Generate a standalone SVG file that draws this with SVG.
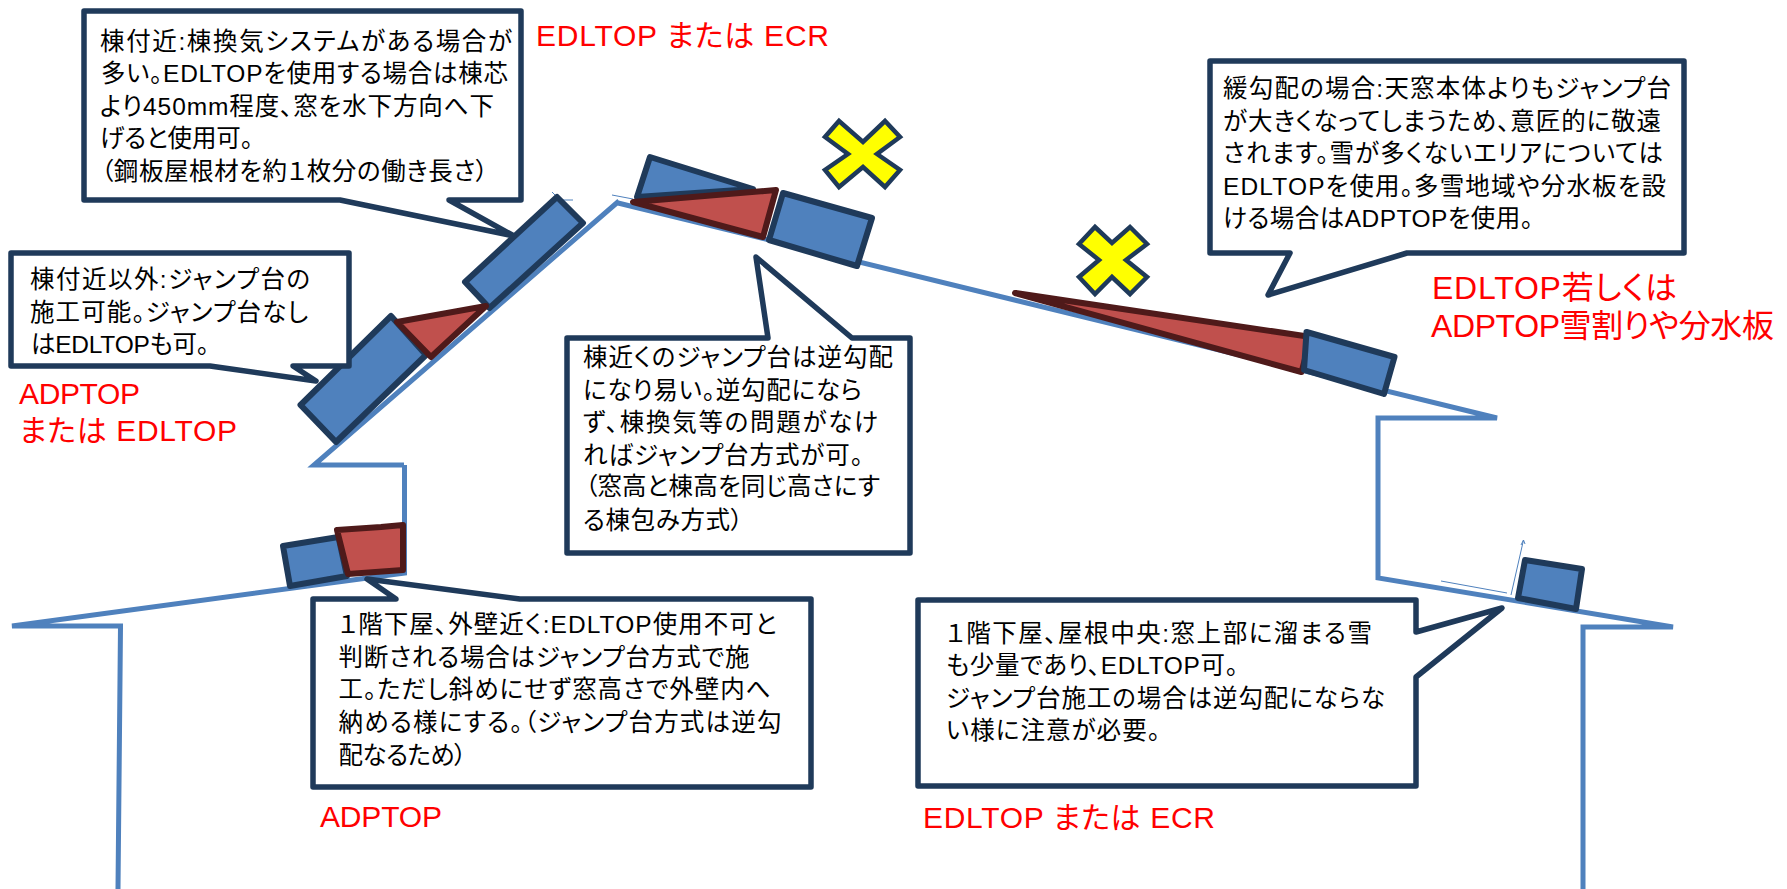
<svg xmlns="http://www.w3.org/2000/svg" width="1787" height="889" viewBox="0 0 1787 889">
<style>
text{font-family:"Liberation Sans","Noto Sans CJK JP",sans-serif;font-feature-settings:"palt"}
.t{font-size:24.500px;fill:#000}
.r{font-size:30px;fill:#f00}
.c{fill:#fff;stroke:#1F3A5A;stroke-width:5.500;stroke-linejoin:round}
.b{fill:#4F81BD;stroke:#1F3A5A;stroke-width:6;stroke-linejoin:round}
.d{fill:#C0504D;stroke:#4F1A1A;stroke-width:6;stroke-linejoin:round}
.y{fill:#FF0;stroke:#1F3A5A;stroke-width:4.500;stroke-linejoin:miter}
.l{fill:none;stroke:#4F81BD;stroke-width:5}
.h{fill:none;stroke:#4F81BD;stroke-width:1}
</style>
<rect width="1787" height="889" fill="#fff"/>
<g id="connectors">
<path class="l" d="M404.500 465V573L12 626H18H120.500L118 889"/>
<path class="l" d="M619 201L314 465H404"/>
<path class="l" d="M618 203L1497 418H1378V578L1673 627H1583V889"/>
<path class="h" d="M552 192L557 197M557 200H573M612 195L633 199M1441 581L1507 593M1511 595L1523.500 540M1521 545L1523.500 540L1525 544"/>
</g>
<g id="roof-parts">
<polygon class="b" points="557,197 583,223 489.500,308 465,282"/>
<polygon class="b" points="391,316 426,355 336,442 300.500,405"/>
<polygon class="d" points="486,306 431,357 397,322"/>
<polygon class="b" points="650,157 753,189 637,197"/>
<polygon class="d" points="633,202 776,190 763,237"/>
<polygon class="b" points="783,193 872,218 857,266 769,240"/>
<polygon class="d" points="1015,293 1311,337 1301.500,372"/>
<polygon class="b" points="1306.500,332 1394.500,357 1384,394 1304,370"/>
<polygon class="b" points="283,546 338.500,537 347,576 290,586"/>
<path class="d" d="M337 530L381 527L403 525V570L348 574Z"/>
<polygon class="b" points="1525,560 1582,569 1576,609 1518,598"/>
</g>
<g id="mark-1"><polygon class="y" points="839,121 863,142 885,121 900,137 877,154 900,170 885,187 863,167 839,187 825,170 848,154 825,137"/></g>
<g id="mark-2"><polygon class="y" points="1095,227 1112,243 1130,227 1147,244 1126,260 1147,277 1130,294 1112,277 1095,294 1079,277 1099,260 1079,244"/></g>
<g id="callout-ridge">
<path class="c" d="M84 11H521V200H449L514 236L340 200H84Z"/>
<text class="t" x="100" y="50" textLength="412">棟付近:棟換気システムがある場合が</text>
<text class="t" x="101" y="82" textLength="407">多い。EDLTOPを使用する場合は棟芯</text>
<text class="t" x="100" y="115" textLength="394">より450mm程度、窓を水下方向へ下</text>
<text class="t" x="100" y="147" textLength="153">げると使用可。</text>
<text class="t" x="101" y="180" textLength="387">（鋼板屋根材を約１枚分の働き長さ）</text>
</g>
<g id="callout-other">
<path class="c" d="M11 253H349V366H293L316 381L210 366H11Z"/>
<text class="t" x="30" y="288" textLength="280">棟付近以外:ジャンプ台の</text>
<text class="t" x="30" y="321" textLength="278">施工可能。ジャンプ台なし</text>
<text class="t" x="31" y="353" textLength="178">はEDLTOPも可。</text>
</g>
<g id="callout-reverse">
<path class="c" d="M567 338H768L756 257L852 338H910V553H567Z"/>
<text class="t" x="583" y="366" textLength="310">棟近くのジャンプ台は逆勾配</text>
<text class="t" x="583" y="399" textLength="279">になり易い。逆勾配になら</text>
<text class="t" x="583" y="431" textLength="295">ず、棟換気等の問題がなけ</text>
<text class="t" x="583" y="464" textLength="280">ればジャンプ台方式が可。</text>
<text class="t" x="585" y="495" textLength="295">（窓高と棟高を同じ高さにす</text>
<text class="t" x="583" y="529" textLength="160">る棟包み方式）</text>
</g>
<g id="callout-gentle">
<path class="c" d="M1210 61H1684V253H1407L1268 295L1290 253H1210Z"/>
<text class="t" x="1223" y="97" textLength="448">緩勾配の場合:天窓本体よりもジャンプ台</text>
<text class="t" x="1223" y="130" textLength="438">が大きくなってしまうため、意匠的に敬遠</text>
<text class="t" x="1223" y="162" textLength="440">されます。雪が多くないエリアについては</text>
<text class="t" x="1223" y="195" textLength="443">EDLTOPを使用。多雪地域や分水板を設</text>
<text class="t" x="1223" y="227" textLength="310">ける場合はADPTOPを使用。</text>
</g>
<g id="callout-lower-wall">
<path class="c" d="M313 599H396L367 579L520 599H811V787H313Z"/>
<text class="t" x="338.500" y="633" textLength="438">１階下屋、外壁近く:EDLTOP使用不可と</text>
<text class="t" x="338.500" y="666" textLength="411">判断される場合はジャンプ台方式で施</text>
<text class="t" x="338.500" y="698" textLength="432">工。ただし斜めにせず窓高さで外壁内へ</text>
<text class="t" x="338.500" y="731" textLength="443">納める様にする。（ジャンプ台方式は逆勾</text>
<text class="t" x="338.500" y="764" textLength="128">配なるため）</text>
</g>
<g id="callout-lower-center">
<path class="c" d="M918 600H1416V632L1502 608L1416 677V786H918Z"/>
<text class="t" x="946" y="642" textLength="426">１階下屋、屋根中央:窓上部に溜まる雪</text>
<text class="t" x="946" y="674" textLength="292">も少量であり、EDLTOP可。</text>
<text class="t" x="946" y="707" textLength="439">ジャンプ台施工の場合は逆勾配にならな</text>
<text class="t" x="946" y="739" textLength="214">い様に注意が必要。</text>
</g>
<g id="labels">
<text class="r" x="536" y="46" textLength="293">EDLTOP または ECR</text>
<text class="r" x="19" y="404" textLength="121">ADPTOP</text>
<text class="r" x="19" y="441" textLength="218">または EDLTOP</text>
<text class="r" x="1432" y="299" textLength="245" style="font-size:32px">EDLTOP若しくは</text>
<text class="r" x="1431" y="337" textLength="343" style="font-size:32px">ADPTOP雪割りや分水板</text>
<text class="r" x="320" y="827" textLength="122">ADPTOP</text>
<text class="r" x="923" y="828" textLength="292">EDLTOP または ECR</text>
</g>
</svg>
